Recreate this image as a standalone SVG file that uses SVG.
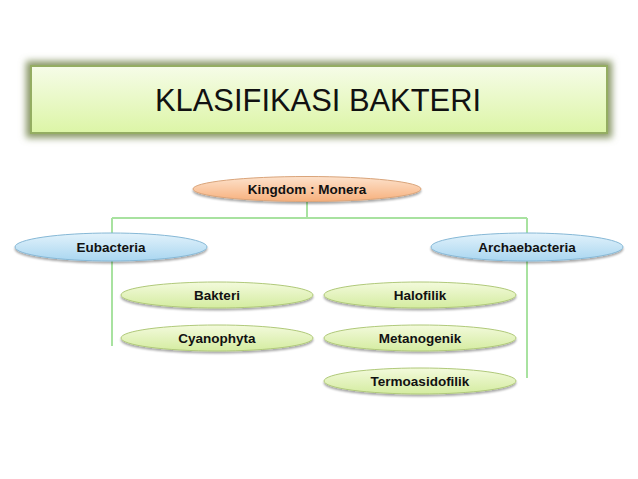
<svg xmlns="http://www.w3.org/2000/svg" width="638" height="479" viewBox="0 0 638 479">
<defs>
<linearGradient id="gTitle" x1="0" y1="0" x2="0" y2="1"><stop offset="0" stop-color="#f6fce8"/><stop offset="1" stop-color="#dcf5a6"/></linearGradient>
<linearGradient id="gOrange" x1="0" y1="0" x2="0" y2="1"><stop offset="0" stop-color="#fde2cc"/><stop offset="1" stop-color="#f7b07c"/></linearGradient>
<linearGradient id="gBlue" x1="0" y1="0" x2="0" y2="1"><stop offset="0" stop-color="#e2f2fb"/><stop offset="1" stop-color="#a9d6f0"/></linearGradient>
<linearGradient id="gGreen" x1="0" y1="0" x2="0" y2="1"><stop offset="0" stop-color="#f3fadc"/><stop offset="1" stop-color="#d4eca0"/></linearGradient>
<filter id="glow" x="-10%" y="-30%" width="120%" height="160%"><feGaussianBlur stdDeviation="3.5"/></filter>
<filter id="sh" x="-10%" y="-30%" width="120%" height="170%"><feGaussianBlur in="SourceAlpha" stdDeviation="1.2"/><feOffset dy="1.5"/><feComponentTransfer><feFuncA type="linear" slope="0.35"/></feComponentTransfer><feMerge><feMergeNode/><feMergeNode in="SourceGraphic"/></feMerge></filter>
</defs>
<style>
.lbl{font-family:"Liberation Sans",Arial,sans-serif;font-weight:bold;font-size:13.5px;fill:#111;text-anchor:middle;dominant-baseline:central}
.ln{stroke:#a8e2a0;stroke-width:2;fill:none}
.o{fill:url(#gOrange);stroke:#d9a47a;stroke-width:1;filter:url(#sh)}
.b{fill:url(#gBlue);stroke:#86b8d6;stroke-width:1;filter:url(#sh)}
.g{fill:url(#gGreen);stroke:#b0c97a;stroke-width:1;filter:url(#sh)}
</style>
<rect width="638" height="479" fill="#ffffff"/>
<g id="title">
<rect x="26" y="61" width="586" height="77" fill="#8a9868" filter="url(#glow)"/>
<rect x="31" y="66" width="576" height="67" fill="url(#gTitle)" stroke="#94ad62" stroke-width="2"/>
<text x="318" y="100" font-family="Liberation Sans,Arial,sans-serif" font-size="32" fill="#111" text-anchor="middle" dominant-baseline="central" textLength="326" lengthAdjust="spacingAndGlyphs">KLASIFIKASI BAKTERI</text>
</g>
<g id="connectors">
<path class="ln" d="M307 201V218M112 218H527M112 218V346M527 218V378"/>
</g>
<g id="kingdom"><ellipse class="o" cx="307" cy="189" rx="114" ry="12.5"/><text class="lbl" x="307" y="189">Kingdom : Monera</text></g>
<g id="eubacteria"><ellipse class="b" cx="111" cy="247" rx="96" ry="14"/><text class="lbl" x="111" y="247">Eubacteria</text></g>
<g id="archaebacteria"><ellipse class="b" cx="527" cy="247" rx="96" ry="14"/><text class="lbl" x="527" y="247">Archaebacteria</text></g>
<g id="bakteri"><ellipse class="g" cx="217" cy="295" rx="96" ry="13"/><text class="lbl" x="217" y="295">Bakteri</text></g>
<g id="cyanophyta"><ellipse class="g" cx="217" cy="338" rx="96" ry="13"/><text class="lbl" x="217" y="338">Cyanophyta</text></g>
<g id="halofilik"><ellipse class="g" cx="420" cy="295" rx="96" ry="13"/><text class="lbl" x="420" y="295">Halofilik</text></g>
<g id="metanogenik"><ellipse class="g" cx="420" cy="338" rx="96" ry="13"/><text class="lbl" x="420" y="338">Metanogenik</text></g>
<g id="termoasidofilik"><ellipse class="g" cx="420" cy="381" rx="96" ry="13"/><text class="lbl" x="420" y="381">Termoasidofilik</text></g>
</svg>
